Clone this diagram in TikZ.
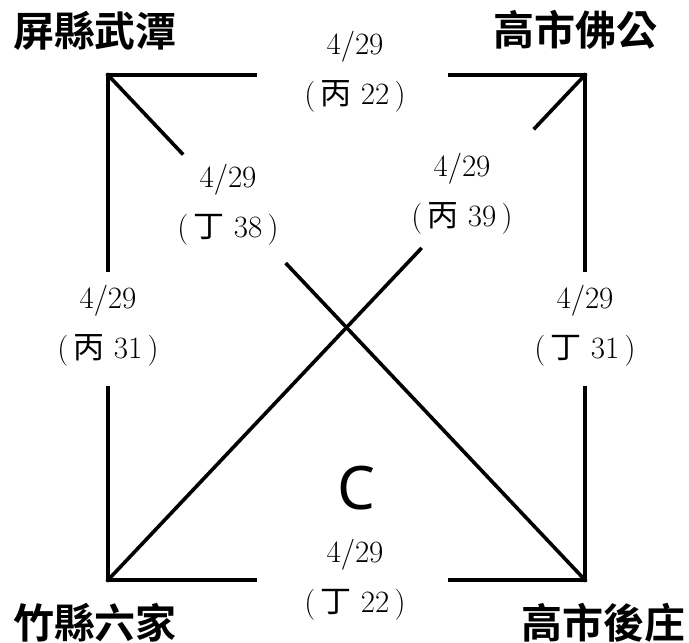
\documentclass[tikz,border=0pt]{standalone}
\usepackage{fontspec}
\usepackage{tikz}
\usetikzlibrary{positioning, calc}
\newfontfamily\cjk{Noto Sans CJK TC}
\newfontfamily\cjkbold{Noto Sans CJK TC Bold}
\newfontfamily\sanslbl{Noto Sans}

\begin{document}
\begin{tikzpicture}[
    x=1pt, y=-1pt,
    edge/.style={line width=3.6pt, draw=black, line cap=rect},
    place/.style={font=\cjkbold\fontsize{41}{41}\selectfont, inner sep=0pt},
    date/.style={align=center, font=\fontsize{31}{50}\selectfont, inner sep=0pt}
]
\useasboundingbox (0,0) rectangle (689,643);

% Corners
\coordinate (tl) at (108,75);
\coordinate (tr) at (585,75);
\coordinate (bl) at (108,580);
\coordinate (br) at (585,580);

% Place names
\node[place] (pingtung) at (95,31) {屏縣武潭};
\node[place] (foshan) at (575,30) {高市佛公};
\node[place] (hsinchu) at (95,623) {竹縣六家};
\node[place] (houzhuang) at (603,623) {高市後庄};

% Gap ends
\coordinate (top_a) at (255,75);
\coordinate (top_b) at (450,75);
\coordinate (bot_a) at (255,580);
\coordinate (bot_b) at (450,580);
\coordinate (lft_a) at (108,270);
\coordinate (lft_b) at (108,388);
\coordinate (rgt_a) at (585,270);
\coordinate (rgt_b) at (585,388);
\coordinate (dia_a) at ($(tl)!0.155!(br)$);
\coordinate (dia_b) at ($(tl)!0.375!(br)$);
\coordinate (dib_a) at ($(bl)!0.655!(tr)$);
\coordinate (dib_b) at ($(bl)!0.895!(tr)$);

% Edges
\draw[edge] (tl) -- (top_a);
\draw[edge] (top_b) -- (tr);
\draw[edge] (bl) -- (bot_a);
\draw[edge] (bot_b) -- (br);
\draw[edge] (tl) -- (lft_a);
\draw[edge] (lft_b) -- (bl);
\draw[edge] (tr) -- (rgt_a);
\draw[edge] (rgt_b) -- (br);
\draw[edge] (tl) -- (dia_a);
\draw[edge] (dia_b) -- (br);
\draw[edge] (bl) -- (dib_a);
\draw[edge] (dib_b) -- (tr);

% Dates
\node[date] (top_lbl) at (355,72) {4/29\\(\,{\cjk 丙} 22\,)};
\node[date] (bot_lbl) at (355,580) {4/29\\(\,{\cjk 丁} 22\,)};
\node[date] (lft_lbl) at (108,326) {4/29\\(\,{\cjk 丙} 31\,)};
\node[date] (rgt_lbl) at (585,326) {4/29\\(\,{\cjk 丁} 31\,)};
\node[date] (dia_lbl) at (228,205) {4/29\\(\,{\cjk 丁} 38\,)};
\node[date] (dib_lbl) at (462,194) {4/29\\(\,{\cjk 丙} 39\,)};

\node[font=\sanslbl\fontsize{60}{60}\selectfont, inner sep=0pt] (mark) at (356,488) {C};
\end{tikzpicture}
\end{document}
